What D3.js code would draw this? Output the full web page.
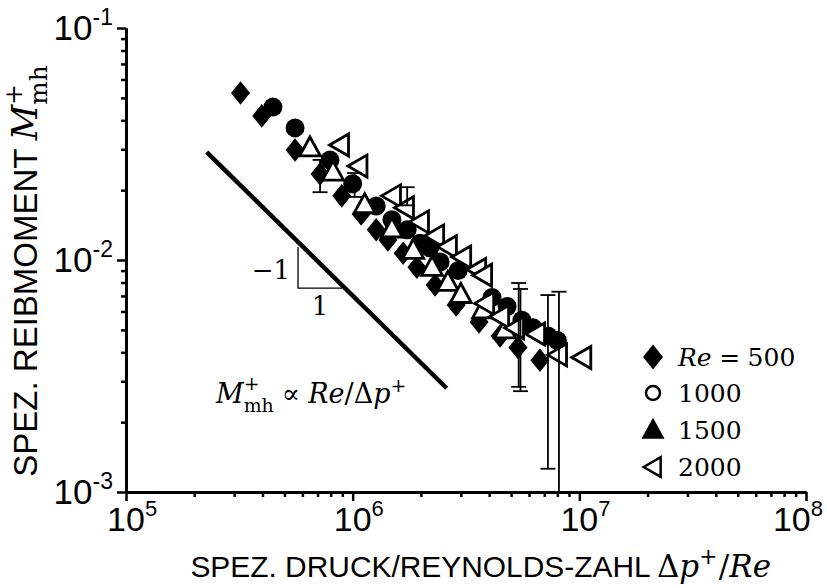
<!DOCTYPE html>
<html>
<head>
<meta charset="utf-8">
<script src="https://cdn.jsdelivr.net/npm/d3@7"></script>
<style>
  body { margin: 0; background: #fff; }
</style>
</head>
<body>
<div id="chart"></div>
<script>
// measured points: [Δp+/Re, M+mh]
const re500 = [
  [3.2e5, 0.0525], [3.97e5, 0.0418], [5.57e5, 0.0298], [7.18e5, 0.0235],
  [8.95e5, 0.0189], [1.09e6, 0.0158], [1.27e6, 0.0135], [1.43e6, 0.0122],
  [1.67e6, 0.0107], [1.92e6, 0.0093], [2.31e6, 0.0078], [2.86e6, 0.0064],
  [3.61e6, 0.0054], [4.47e6, 0.0047], [5.36e6, 0.0042], [6.7e6, 0.0037]
];
const re1000 = [
  [4.45e5, 0.0456], [5.57e5, 0.0371], [7.94e5, 0.0270], [1.0e6, 0.0213],
  [1.27e6, 0.0171], [1.49e6, 0.0149], [1.74e6, 0.0135], [1.98e6, 0.0118],
  [2.19e6, 0.0113], [2.43e6, 0.0098], [2.92e6, 0.0090], [4.12e6, 0.0069],
  [4.8e6, 0.0063], [5.58e6, 0.0055], [6.25e6, 0.0051], [7.27e6, 0.0047],
  [8.0e6, 0.0045]
];
const re1500 = [
  [6.48e5, 0.0304], [8.19e5, 0.0239], [1.13e6, 0.0173], [1.49e6, 0.0136],
  [1.85e6, 0.0110], [2.24e6, 0.0093], [2.63e6, 0.0080], [3.0e6, 0.0071],
  [3.76e6, 0.0061], [4.7e6, 0.0050]
];
const re2000 = [
  [8.79e5, 0.0313], [1.06e6, 0.0254], [1.49e6, 0.0189], [1.70e6, 0.0168],
  [1.98e6, 0.0146], [2.31e6, 0.0127], [2.63e6, 0.0114], [3.04e6, 0.0103],
  [3.54e6, 0.0091], [3.76e6, 0.0086], [3.84e6, 0.0065], [4.47e6, 0.0057],
  [5.2e6, 0.0051], [6.44e6, 0.0048], [8.05e6, 0.0039], [1.03e7, 0.0038]
];
// [x, low, high]
const errorBars = [
  [7.18e5, 0.0196, 0.0270], [1.02e6, 0.0187, 0.0237], [1.74e6, 0.0172, 0.0206],
  [5.4e6, 0.00284, 0.00796], [5.5e6, 0.00272, 0.0075],
  [7.27e6, 0.00126, 0.00706], [8.13e6, 0.0008, 0.0073]
];
// guide line M+ ~ Re/Δp+ and its slope triangle
const guideLine = [[2.27e5, 0.0292], [2.6e6, 0.0028]];
const slopeTri = [[5.74e5, 0.01138], [5.74e5, 0.00757], [8.97e5, 0.00757]];

const xTicks = [1e5, 1e6, 1e7, 1e8];
const xTickExp = ["5", "6", "7", "8"];
const yTicks = [1e-3, 1e-2, 1e-1];
const yTickExp = ["-3", "-2", "-1"];
const legendLabels = ["500", "1000", "1500", "2000"];

const sans = "'Liberation Sans', Arial, sans-serif";
const serif = "'DejaVu Serif', serif";

const W = 827, H = 588;
const x = d3.scaleLog().domain([1e5, 1e8]).range([126, 806]);
const y = d3.scaleLog().domain([1e-3, 1e-1]).range([492, 28]);

const svg = d3.select("#chart").append("svg")
  .attr("width", W).attr("height", H);

// minor ticks 2..9 per decade
function minorTicks(lo, hi) {
  const out = [];
  for (let e = lo; e < hi; e++)
    for (let m = 2; m <= 9; m++) out.push(m * Math.pow(10, e));
  return out;
}

function styleAxis(g) {
  g.select(".domain").attr("stroke-width", 3);
  g.selectAll(".tick line").attr("stroke-width", 2.5);
  g.selectAll(".tick text").remove();
}

svg.append("g").attr("transform", "translate(0,492)")
  .call(d3.axisBottom(x).tickValues(minorTicks(5, 8)).tickSize(5).tickSizeOuter(0))
  .call(styleAxis);
svg.append("g").attr("transform", "translate(0,492)")
  .call(d3.axisBottom(x).tickValues(xTicks).tickSize(9).tickSizeOuter(0))
  .call(styleAxis);
svg.append("g").attr("transform", "translate(126,0)")
  .call(d3.axisLeft(y).tickValues(minorTicks(-3, -1)).tickSize(5).tickSizeOuter(0))
  .call(styleAxis);
svg.append("g").attr("transform", "translate(126,0)")
  .call(d3.axisLeft(y).tickValues(yTicks).tickSize(9).tickSizeOuter(0))
  .call(styleAxis);

// tick labels 10^n; the base "10" sits centred on the tick, kept inside the page
xTicks.forEach((v, i) => {
  const t = svg.append("text")
    .attr("y", 531)
    .attr("font-family", sans).attr("font-size", 34);
  t.append("tspan").text("10");
  t.append("tspan").attr("dy", -15).attr("font-size", 22).text(xTickExp[i]);
  const base = t.select("tspan").node().getComputedTextLength();
  const full = t.node().getComputedTextLength();
  const left = Math.min(x(v) - base / 2, W - 4 - full);
  t.attr("x", left);
});
yTicks.forEach((v, i) => {
  const t = svg.append("text")
    .attr("x", 113).attr("y", y(v) + 12)
    .attr("text-anchor", "end")
    .attr("font-family", sans).attr("font-size", 35);
  t.append("tspan").text("10");
  t.append("tspan").attr("dy", -15).attr("font-size", 23).text(yTickExp[i]);
});

// text built from pieces; returns group and width
function mathText(parent, size, parts) {
  const g = parent.append("g");
  let cx = 0;
  parts.forEach(p => {
    const t = g.append("text")
      .attr("x", cx).attr("y", (p.shift || 0) * size)
      .attr("font-family", p.sans ? sans : serif)
      .attr("font-style", p.it ? "italic" : "normal")
      .attr("font-size", size * (p.scale || 1))
      .text(p.t);
    let w = t.node().getComputedTextLength();
    if (p.over) {
      const s = g.append("text")
        .attr("x", cx).attr("y", p.over.shift * size)
        .attr("font-family", serif)
        .attr("font-size", size * (p.over.scale || 1))
        .text(p.over.t);
      w = Math.max(w, s.node().getComputedTextLength());
    }
    cx += w + (p.gap || 0) * size;
  });
  return { g, width: cx };
}

// axis titles
const xt = mathText(svg, 31, [
  { t: "SPEZ. DRUCK/REYNOLDS-ZAHL", sans: true, scale: 0.965, gap: 0.2 },
  { t: "Δ" }, { t: "p", it: true },
  { t: "+", scale: 0.7, shift: -0.42, gap: 0.05 },
  { t: "/" }, { t: "Re", it: true }
]);
xt.g.attr("transform", `translate(${771 - xt.width},577)`);

const yt = mathText(svg, 33, [
  { t: "SPEZ. REIBMOMENT", sans: true, gap: 0.25 },
  { t: "M", it: true, scale: 1.05 },
  { t: "mh", scale: 0.75, shift: 0.3, over: { t: "+", scale: 0.75, shift: -0.45 } }
]);
yt.g.attr("transform", `translate(37,${271 + yt.width / 2}) rotate(-90)`);

// guide line with slope triangle
const line = d3.line().x(d => x(d[0])).y(d => y(d[1]));
svg.append("path").datum(guideLine).attr("d", line)
  .attr("fill", "none").attr("stroke", "#000").attr("stroke-width", 4.5);
svg.append("path").datum(slopeTri).attr("d", line)
  .attr("fill", "none").attr("stroke", "#000").attr("stroke-width", 1.3);
svg.append("text").attr("x", x(slopeTri[0][0]) - 8).attr("y", 279)
  .attr("text-anchor", "end").attr("font-family", serif).attr("font-size", 26)
  .text("−1");
svg.append("text").attr("x", (x(slopeTri[1][0]) + x(slopeTri[2][0])) / 2).attr("y", 315)
  .attr("text-anchor", "middle").attr("font-family", serif).attr("font-size", 26)
  .text("1");

const ft = mathText(svg, 27, [
  { t: "M", it: true },
  { t: "mh", scale: 0.7, shift: 0.32, over: { t: "+", scale: 0.7, shift: -0.48 }, gap: 0.3 },
  { t: "∝", gap: 0.3 },
  { t: "Re", it: true }, { t: "/" }, { t: "Δ" }, { t: "p", it: true },
  { t: "+", scale: 0.7, shift: -0.42 }
]);
ft.g.attr("transform", "translate(216,403)");

// markers
const diamond = s => `M0,${-s * 0.62}L${s * 0.5},0L0,${s * 0.62}L${-s * 0.5},0Z`;
const triUp = s => `M0,${-s * 0.58}L${s * 0.55},${s * 0.42}L${-s * 0.55},${s * 0.42}Z`;
const triLeft = s => `M${-s * 0.55},0L${s * 0.45},${-s * 0.58}L${s * 0.45},${s * 0.58}Z`;

const plot = svg.append("g");

plot.selectAll(".d500").data(re500).join("path")
  .attr("transform", d => `translate(${x(d[0])},${y(d[1])})`)
  .attr("d", diamond(19)).attr("fill", "#000");

plot.selectAll(".d1000").data(re1000).join("circle")
  .attr("cx", d => x(d[0])).attr("cy", d => y(d[1])).attr("r", 9.5)
  .attr("fill", "#000");

plot.selectAll(".d1500").data(re1500).join("path")
  .attr("transform", d => `translate(${x(d[0])},${y(d[1])})`)
  .attr("d", triUp(19)).attr("fill", "#fff")
  .attr("stroke", "#000").attr("stroke-width", 2.8).attr("stroke-linejoin", "miter");

plot.selectAll(".d2000").data(re2000).join("path")
  .attr("transform", d => `translate(${x(d[0])},${y(d[1])})`)
  .attr("d", triLeft(19)).attr("fill", "#fff")
  .attr("stroke", "#000").attr("stroke-width", 2.8).attr("stroke-linejoin", "miter");

// error bars, clipped to the plot frame
svg.append("clipPath").attr("id", "frame").append("rect")
  .attr("x", 126).attr("y", 20).attr("width", 690).attr("height", 472);
const eb = svg.append("g").attr("clip-path", "url(#frame)")
  .attr("stroke", "#000").attr("stroke-width", 1.8);
errorBars.forEach(d => {
  const cx = x(d[0]);
  eb.append("line").attr("x1", cx).attr("x2", cx).attr("y1", y(d[1])).attr("y2", y(d[2]));
  [d[1], d[2]].forEach(v => {
    eb.append("line").attr("x1", cx - 7.5).attr("x2", cx + 7.5)
      .attr("y1", y(v)).attr("y2", y(v));
  });
});

// legend
const legendY = [357, 393, 430, 467];
const lg = svg.append("g");
lg.append("path").attr("transform", `translate(653,${legendY[0]})`)
  .attr("d", diamond(20)).attr("fill", "#000");
lg.append("circle").attr("cx", 653).attr("cy", legendY[1]).attr("r", 7)
  .attr("fill", "none").attr("stroke", "#000").attr("stroke-width", 2.5);
lg.append("path").attr("transform", `translate(653,${legendY[2]})`)
  .attr("d", triUp(21)).attr("fill", "#000");
lg.append("path").attr("transform", `translate(653,${legendY[3]})`)
  .attr("d", triLeft(17)).attr("fill", "#fff")
  .attr("stroke", "#000").attr("stroke-width", 2.5);

const l0 = mathText(lg, 25, [
  { t: "Re", it: true, gap: 0.3 }, { t: "=", gap: 0.3 }, { t: legendLabels[0] }
]);
l0.g.attr("transform", `translate(678,${legendY[0] + 9})`);
legendLabels.slice(1).forEach((lab, i) => {
  lg.append("text").attr("x", 678).attr("y", legendY[i + 1] + 9)
    .attr("font-family", serif).attr("font-size", 25).text(lab);
});
</script>
</body>
</html>
